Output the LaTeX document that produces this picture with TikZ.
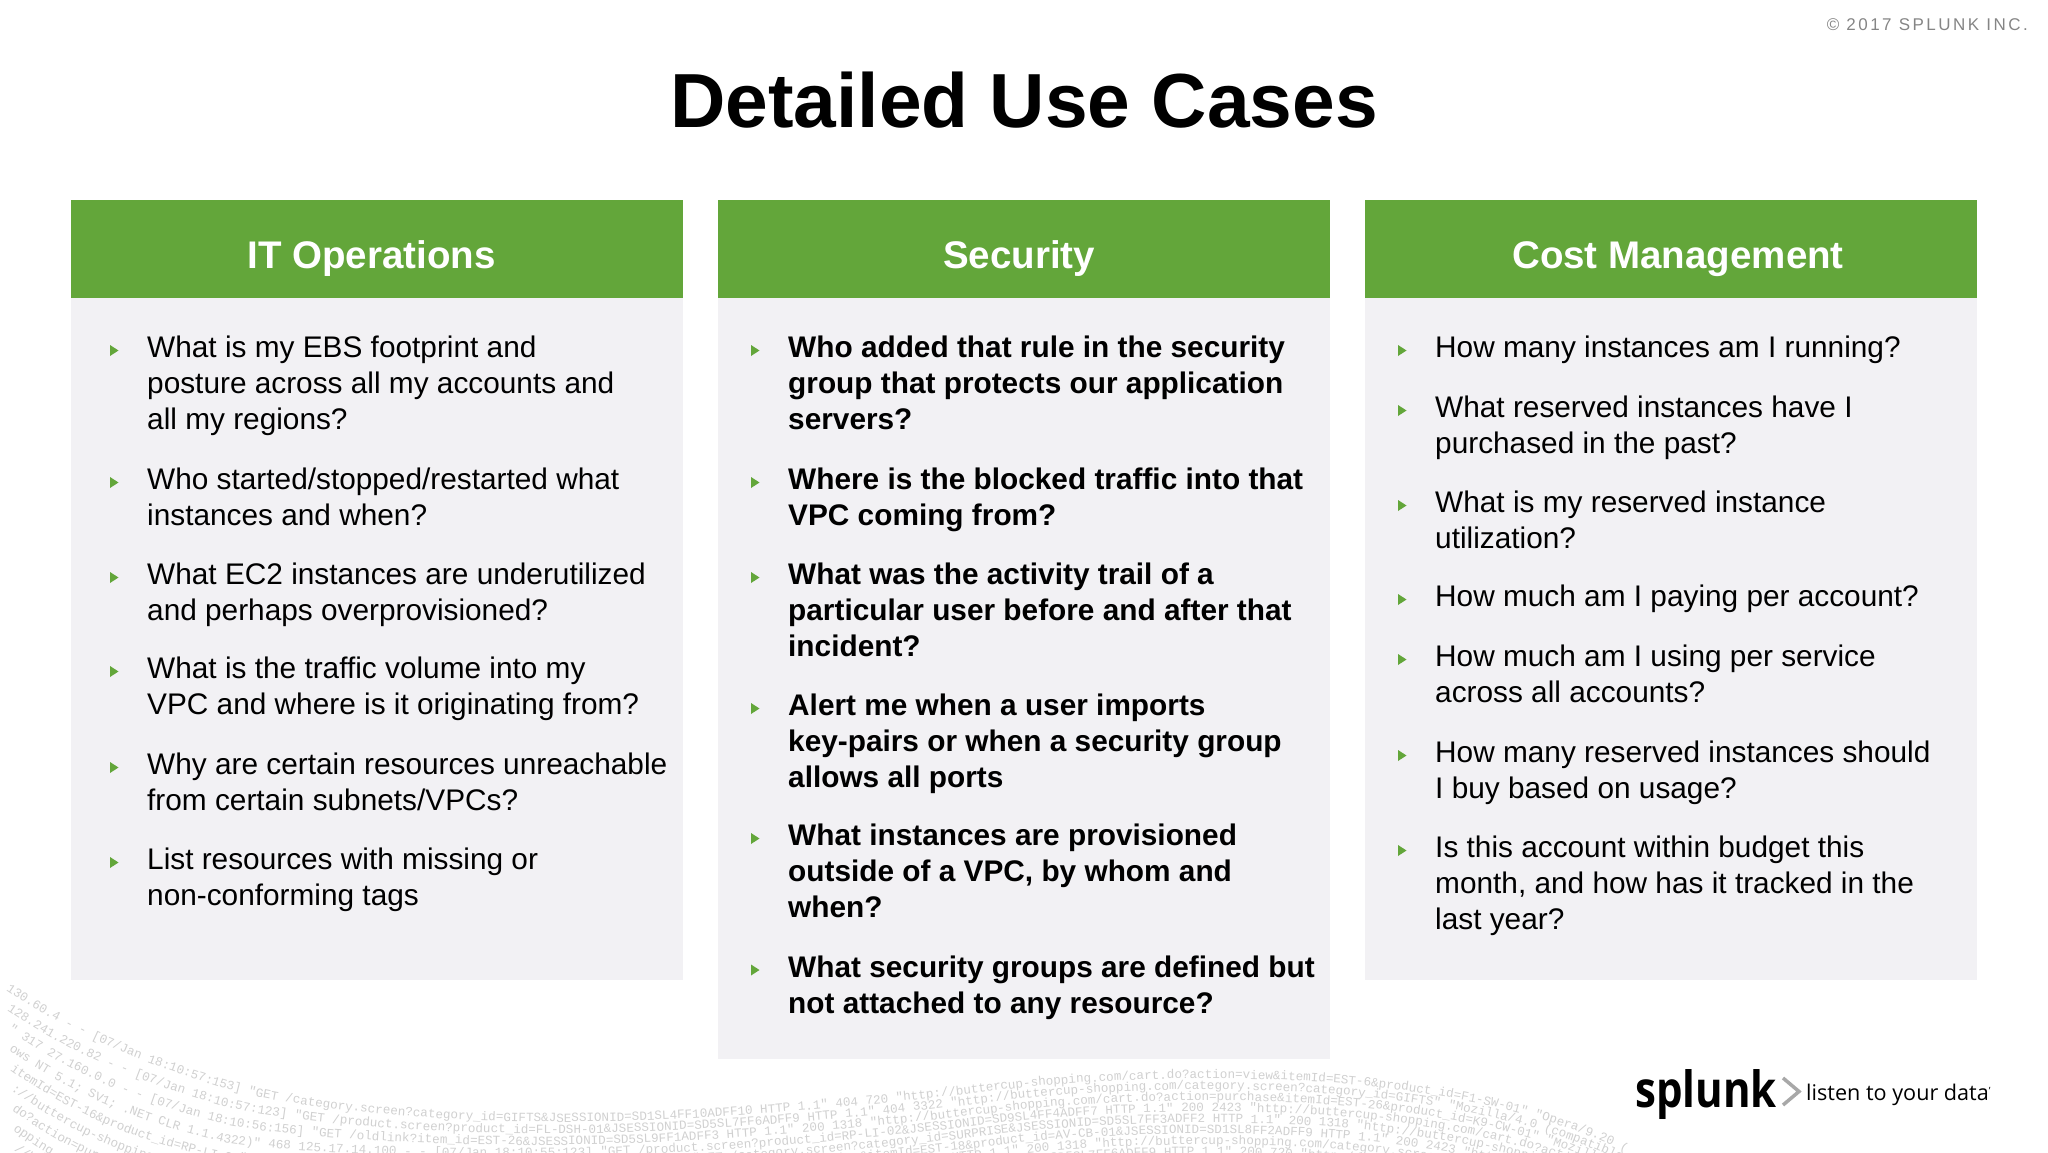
\documentclass[tikz,border=0pt]{standalone}
\usepackage{fontspec}
\setmainfont{Liberation Sans}
\newfontfamily\logfont{Liberation Mono}
\newfontfamily\logofont{Open Sans}
\usetikzlibrary{decorations.text}
\definecolor{hdrgreen}{HTML}{63A63A}
\definecolor{panelgrey}{HTML}{F2F1F4}
\definecolor{logc}{HTML}{D0D0D0}
\definecolor{chev}{HTML}{A8A8A8}
\definecolor{copyc}{HTML}{858585}
\tikzset{
  x=1pt,y=-1pt,
  panelbox/.style={fill=panelgrey,draw=none,inner sep=0,anchor=north west,minimum width=611.5pt},
  hdrbox/.style={fill=hdrgreen,draw=none,inner sep=0,anchor=north west,minimum width=611.5pt,minimum height=98pt},
  hdrtext/.style={text=white,inner sep=0,anchor=base,font=\fontsize{38.5}{44}\selectfont\bfseries},
  qtext/.style={inner sep=0,anchor=north west,align=left,text=black,font=\fontsize{29.8}{35.8}\selectfont},
  qbold/.style={qtext,font=\fontsize{29.8}{35.8}\selectfont\bfseries},
  bul/.style={fill=hdrgreen,draw=none},
}
\newcommand{\qq}[5][qtext]{\node[#1] (#2) at (#3,#4-24.8) {\rule{0pt}{25pt}#5};}
\newcommand{\blt}[2]{\fill[bul] (#1,#2-11.5) -- (#1+8.5,#2-6) -- (#1,#2-0.5) -- cycle;}
\newcommand{\logline}[2]{%
  \path[decorate,decoration={text along path,text align=left,
    text={|\logfont\fontsize{12.6}{13}\selectfont\color{logc}|#2}}]
   (6+#1,990+20*#1) .. controls (80,1040+20*#1) and (150,1065+20*#1) .. (223,1088+18*#1)
   .. controls (290,1108+15*#1) and (430,1122+12*#1) .. (560,1122+11.5*#1)
   .. controls (700,1122+11*#1) and (880,1105+11*#1) .. (1000,1090+11*#1)
   .. controls (1100,1078+11*#1) and (1230,1075+11*#1) .. (1334,1083+11*#1)
   .. controls (1450,1092+11*#1) and (1550,1115+11*#1) .. (1625,1152+11*#1);}
\begin{document}
\begin{tikzpicture}
\useasboundingbox (0,0) rectangle (2048,1152);
\clip (0,0) rectangle (2048,1152);
% log-text band
\logline{0}{130.60.4 - - [07/Jan 18:10:57:153] "GET /category.screen?category{\_}id=GIFTS{\&}JSESSIONID=SD1SL4FF10ADFF10 HTTP 1.1" 404 720 "http://buttercup-shopping.com/cart.do?action=view{\&}itemId=EST-6{\&}product{\_}id=F1-SW-01" "Opera/9.20 (Windows NT 6.0)"}
\logline{1}{128.241.220.82 - - [07/Jan 18:10:57:123] "GET /product.screen?product{\_}id=FL-DSH-01{\&}JSESSIONID=SD5SL7FF6ADFF9 HTTP 1.1" 404 3322 "http://buttercup-shopping.com/category.screen?category{\_}id=GIFTS" "Mozilla/4.0 (compatible; MSIE 6.0)"}
\logline{2}{" 317 27.160.0.0 - - [07/Jan 18:10:56:156] "GET /oldlink?item{\_}id=EST-26{\&}JSESSIONID=SD5SL9FF1ADFF3 HTTP 1.1" 200 1318 "http://buttercup-shopping.com/cart.do?action=purchase{\&}itemId=EST-26{\&}product{\_}id=K9-CW-01" "Mozilla/4.0"}
\logline{3}{ows NT 5.1; SV1; .NET CLR 1.1.4322)" 468 125.17.14.100 - - [07/Jan 18:10:55:123] "GET /product.screen?product{\_}id=RP-LI-02{\&}JSESSIONID=SD9SL4FF4ADFF7 HTTP 1.1" 200 2423 "http://buttercup-shopping.com/cart.do?action=changequantity"}
\logline{4}{itemId=EST-16{\&}product{\_}id=RP-LI-02" "Mozilla/4.0" 468 125.17.14.100 - - [07/Jan 18:10:55:109] "GET /category.screen?category{\_}id=SURPRISE{\&}JSESSIONID=SD5SL7FF3ADFF2 HTTP 1.1" 200 1318 "http://buttercup-shopping.com/oldlink"}
\logline{5}{://buttercup-shopping.com/oldlink?item{\_}id=EST-18 HTTP 1.1" 200 3865 [07/Jan 18:10:55:107] "GET /cart.do?action=view{\&}itemId=EST-18{\&}product{\_}id=AV-CB-01{\&}JSESSIONID=SD1SL8FF2ADFF9 HTTP 1.1" 200 2423 "http://buttercup"}
\logline{6}{do?action=purchase{\&}itemId=EST-26 HTTP 1.1" 404 720 [07/Jan 18:10:54:100] "GET /oldlink?item{\_}id=EST-6{\&}JSESSIONID=SD0SL8FF1ADFF6 HTTP 1.1" 200 1318 "http://buttercup-shopping.com/category.screen?category{\_}id=FLOWERS"}
\logline{7}{opping.com/cart.do?action=purchase{\&}itemId=EST-6 HTTP 1.1" 200 3322 [07/Jan 18:10:54:189] "GET /category.screen?category{\_}id=GIFTS{\&}JSESSIONID=SD5SL7FF6ADFF9 HTTP 1.1" 200 720 "http://buttercup-shopping.com/cart.do"}
\logline{8}{//butter-shopping.com/cart.do?action=remove{\&}itemId=EST-15 HTTP 1.1" 200 468 [07/Jan 18:10:53:187] "GET /cart.do?action=remove{\&}itemId=EST-15{\&}JSESSIONID=SD8SL2FF7ADFF1 HTTP 1.1" 200 720 "http://buttercup"}
% title and copyright
\node[inner sep=0,anchor=base,font=\fontsize{76.7}{90}\selectfont\bfseries] (title) at (1024,127.5) {Detailed Use Cases};
\node[inner sep=0,anchor=base east,text=copyc,font=\addfontfeatures{LetterSpace=14.5}\fontsize{17}{20}\selectfont] (copy) at (2028,30.5) {© 2017 SPLUNK INC.};
% panels
\node[panelbox,minimum height=780pt] (p1) at (71,200) {};
\node[panelbox,minimum height=859pt] (p2) at (718,200) {};
\node[panelbox,minimum height=780pt] (p3) at (1365,200) {};
\node[hdrbox] (h1) at (71,200) {};
\node[hdrbox] (h2) at (718,200) {};
\node[hdrbox] (h3) at (1365,200) {};
\node[hdrtext] (t1) at (371.5,268) {IT Operations};
\node[hdrtext] (t2) at (1019,268) {Security};
\node[hdrtext] (t3) at (1678,268) {Cost Management};
% column 1
\blt{110}{356.5}\qq{a1}{147}{357}{What is my EBS footprint and\\posture across all my accounts and\\all my regions?}
\blt{110}{488.5}\qq{a2}{147}{489}{Who started/stopped/restarted what\\instances and when?}
\blt{110}{583.5}\qq{a3}{147}{584}{What EC2 instances are underutilized\\and perhaps overprovisioned?}
\blt{110}{677.5}\qq{a4}{147}{678}{What is the traffic volume into my\\VPC and where is it originating from?}
\blt{110}{773.5}\qq{a5}{147}{774}{Why are certain resources unreachable\\from certain subnets/VPCs?}
\blt{110}{868.5}\qq{a6}{147}{869}{List resources with missing or\\non-conforming tags}
% column 2
\blt{751}{356.5}\qq[qbold]{b1}{788}{357}{Who added that rule in the security\\group that protects our application\\servers?}
\blt{751}{488.5}\qq[qbold]{b2}{788}{489}{Where is the blocked traffic into that\\VPC coming from?}
\blt{751}{583.5}\qq[qbold]{b3}{788}{584}{What was the activity trail of a\\particular user before and after that\\incident?}
\blt{751}{714.5}\qq[qbold]{b4}{788}{715}{Alert me when a user imports\\key-pairs or when a security group\\allows all ports}
\blt{751}{844.5}\qq[qbold]{b5}{788}{845}{What instances are provisioned\\outside of a VPC, by whom and\\when?}
\blt{751}{976}\qq[qbold]{b6}{788}{977}{What security groups are defined but\\not attached to any resource?}
% column 3
\blt{1398}{356.5}\qq{c1}{1435}{357}{How many instances am I running?}
\blt{1398}{416.5}\qq{c2}{1435}{417}{What reserved instances have I\\purchased in the past?}
\blt{1398}{511.5}\qq{c3}{1435}{512}{What is my reserved instance\\utilization?}
\blt{1398}{605.5}\qq{c4}{1435}{606}{How much am I paying per account?}
\blt{1398}{665.5}\qq{c5}{1435}{666}{How much am I using per service\\across all accounts?}
\blt{1398}{761.5}\qq{c6}{1435}{762}{How many reserved instances should\\I buy based on usage?}
\blt{1398}{856.5}\qq{c7}{1435}{857}{Is this account within budget this\\month, and how has it tracked in the\\last year?}
% logo
\node[inner sep=0,anchor=base west,xscale=.84,font=\logofont\fontsize{50}{52}\selectfont\bfseries] (logo) at (1635,1107) {splunk};
\draw[chev,line width=3.5pt] (1783,1078) -- (1799,1091.5) -- (1783,1105);
\node[inner sep=0,anchor=base west,font=\logofont\fontsize{21.6}{24}\selectfont] (tag) at (1806,1100) {listen to your data\raisebox{6pt}{\fontsize{10}{10}\selectfont ’}};
\end{tikzpicture}
\end{document}
